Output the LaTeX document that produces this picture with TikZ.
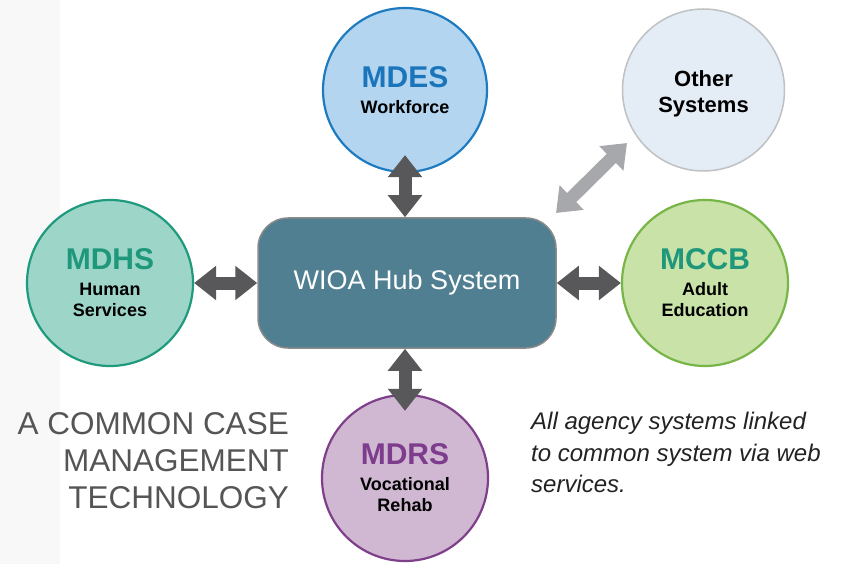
\documentclass[tikz,border=0pt]{standalone}
\usepackage{fontspec}
\setmainfont{Liberation Sans}
\usetikzlibrary{arrows.meta}
\definecolor{hubblue}{HTML}{4F7F91}
\definecolor{hubedge}{HTML}{8A8A8A}
\definecolor{linkgray}{HTML}{58585A}
\definecolor{othergray}{HTML}{A7A8AB}
\definecolor{titlegray}{HTML}{555555}
\definecolor{notetext}{HTML}{222222}
\definecolor{bandgray}{HTML}{F8F8F8}
\definecolor{mdesfill}{HTML}{B3D5F0}
\definecolor{mdesedge}{HTML}{1F7BC0}
\definecolor{mdestext}{HTML}{1B75BB}
\definecolor{otherfill}{HTML}{E4ECF5}
\definecolor{otheredge}{HTML}{BFC1C3}
\definecolor{mdhsfill}{HTML}{9DD6C9}
\definecolor{mdhsedge}{HTML}{1F9A7D}
\definecolor{greentext}{HTML}{1F977B}
\definecolor{mccbfill}{HTML}{C8E2A8}
\definecolor{mccbedge}{HTML}{78B548}
\definecolor{mdrsfill}{HTML}{D0B8D3}
\definecolor{mdrsedge}{HTML}{7F3F8A}
\definecolor{mdrstext}{HTML}{7D3C8C}
\tikzset{
	agency/.style={circle, inner sep=0pt, line width=2.2pt, align=center, font=\fontsize{18}{21}\selectfont\bfseries},
	link/.style={line width=13pt, color=linkgray, {Triangle[length=22pt,width=33pt]}-{Triangle[length=22pt,width=33pt]}}
}
\newcommand{\agencyname}[2]{{\fontsize{30}{34}\selectfont\color{#1}#2}\\[5pt]}
\begin{document}
\begin{tikzpicture}[x=1pt,y=-1pt]
			\useasboundingbox (0,0) rectangle (846,564);
			\fill [color=bandgray] (0,0) rectangle (60,564);
			\node [agency, minimum size=164pt, fill=mdesfill, draw=mdesedge] (mdes) at (405,90) {\agencyname{mdestext}{MDES}Workforce};
			\node [agency, minimum size=162pt, fill=otherfill, draw=otheredge, line width=1.5pt, font=\fontsize{22}{25.5}\selectfont\bfseries] (other) at (703.5,90) {\rule{0pt}{24pt}Other\\Systems};
			\node [agency, minimum size=166pt, fill=mdhsfill, draw=mdhsedge] (mdhs) at (110,283) {\agencyname{greentext}{MDHS}Human\\Services};
			\node [agency, minimum size=166pt, fill=mccbfill, draw=mccbedge] (mccb) at (705,283) {\agencyname{greentext}{MCCB}Adult\\Education};
			\node [agency, minimum size=166pt, fill=mdrsfill, draw=mdrsedge] (mdrs) at (405,478) {\agencyname{mdrstext}{MDRS}Vocational\\Rehab};
			\node [rectangle, rounded corners=30pt, minimum width=298pt, minimum height=130pt, fill=hubblue, draw=hubedge, line width=1.5pt, text=white, font=\fontsize{27}{30}\selectfont] (hub) at (407,283) {WIOA Hub System};
			% links to the hub
			\draw [link, shorten <=-18pt] (mdes.south) -- (mdes.south |- hub.north);
			\draw [link, shorten >=-17pt] (mdrs.north |- hub.south) -- (mdrs.north);
			\draw [link] (mdhs.east) -- (mdhs.east -| hub.west);
			\draw [link] (mccb.west -| hub.east) -- (mccb.west);
			\coordinate (g1) at (556,213);
			\coordinate (g2) at (627,143);
			\draw [link, color=othergray] (g1) -- (g2);
			% texts
			\node [anchor=north east, inner sep=0pt, align=right, text=titlegray, font=\fontsize{31.5}{37}\selectfont] (title) at (289,412) {A COMMON CASE\\MANAGEMENT\\TECHNOLOGY};
			\node [anchor=north west, inner sep=0pt, align=left, text=notetext, font=\fontsize{24}{31.5}\selectfont\itshape] (note) at (531,412) {All agency systems linked\\to common system via web\\services.};
		\end{tikzpicture}
\end{document}
